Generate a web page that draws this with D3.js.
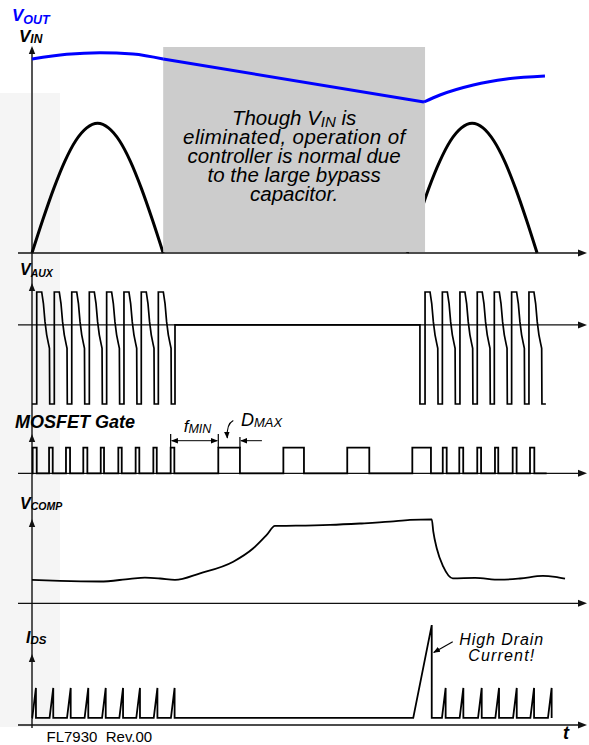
<!DOCTYPE html>
<html>
<head>
<meta charset="utf-8">
<script src="https://cdn.jsdelivr.net/npm/d3@7"></script>
<style>
  body { margin: 0; background: #fff; }
  svg { display: block; font-family: "Liberation Sans", Arial, sans-serif; }
</style>
</head>
<body>
<script>
const width = 589,
      height = 745;

// time in ms along the shared axis
const tMax = 42;

// V_IN (rectified line), volts
const vinHump1 = [[0,0],[0.83,65],[1.67,126],[2.5,178],[3.33,218],[4.17,243],[5,252],[5.83,243],[6.67,218],[7.5,178],[8.33,126],[9.17,65],[10,0]];
const vinHump2 = [[28.6,0],[29.43,65],[30.25,126],[31.08,178],[31.9,218],[32.73,243],[33.55,252],[34.38,243],[35.2,218],[36.03,178],[36.85,126],[37.68,65],[38.5,0]];
const outage = [10, 29.96];

// V_OUT, volts
const voutHold = [[0,376.7],[2.65,385.8],[5.18,389],[7.7,386.4],[10,376.7]];
const voutDrop = [[10,376.7],[29.88,293.2]];
const voutRecover = [[29.88,293.2],[31.1,306.8],[33.64,326.2],[36.18,337.9],[39.1,343.7]];

// V_AUX: rising edges and the ringing shape after each edge
const vauxRise1 = [0.36, 1.70, 3.03, 4.37, 5.69, 7.01, 8.33, 9.63];
const vauxRise2 = [29.96, 31.28, 32.62, 33.94, 35.24, 36.56, 37.88];
const vauxIdle = [10.9, 29.57];
const vauxEnd = 39.17;
const vauxLow = -2.4;
const vauxRing = [[0,1],[0.38,1],[0.51,0.65],[0.63,0.10],[0.76,-0.30],[0.89,-0.56],[0.97,-0.71],[0.99,-2.4]];

// MOSFET gate pulses [on, off]
const gatePulses = [[0.05,0.36],[1.30,1.58],[2.59,2.90],[3.91,4.22],[5.24,5.49],[6.58,6.84],[7.90,8.18],[9.25,9.51],[10.57,10.85],
                    [14.20,15.85],[19.16,20.73],[24.03,25.71],[28.99,30.41],
                    [31.31,31.61],[32.57,32.87],[33.94,34.23],[35.29,35.54],[36.64,36.94],[37.96,38.29]];
const gateEnd = 39.23;

// V_COMP, volts
const vcomp = [[0,1.17],[2.13,1.12],[5.18,1.09],[7.47,1.22],[8.61,1.28],[9.76,1.24],[10.9,1.17],
               [12.81,1.50],[15.34,2.08],[16.87,2.75],[17.89,3.42],[18.52,3.87],
               [20.12,3.88],[22.71,3.92],[25.0,3.99],[27.29,4.08],[28.81,4.17],[30.47,4.20],
               [30.59,3.58],[30.85,2.75],[31.35,1.83],[32.07,1.25],
               [33.77,1.27],[35.67,1.18],[37.2,1.24],[38.95,1.37],[39.87,1.32],[40.63,1.23]];

// I_DS spikes
const idsPeaks1 = [0.30, 1.62, 2.95, 4.29, 5.62, 6.94, 8.23, 9.56, 10.87];
const idsPeaks2 = [31.53, 32.88, 34.28, 35.60, 36.95, 38.27, 39.61];
const idsSurge = {start: 29.06, peak: 30.47, level: 3.23};
const idsRamp = 0.28, idsFloor = 0.23, idsPeak = 1.2;

const noteLines = ["eliminated, operation of", "controller is normal due", "to the large bypass", "capacitor."];

const svg = d3.select("body")
    .append("svg")
    .attr("width", width)
    .attr("height", height);

const x = d3.scaleLinear().domain([0, tMax]).range([32, 583]);

const yVin = d3.scaleLinear().domain([0, 400]).range([253, 47]);
const yAux = d3.scaleLinear().domain([vauxLow, 1]).range([404, 292]);
const yGate = d3.scaleLinear().domain([0, 1]).range([473.3, 447.7]);
const yComp = d3.scaleLinear().domain([0, 5]).range([603.3, 503.3]);
const yIds = d3.scaleLinear().domain([0, 3.2]).range([725, 626]);

const defs = svg.append("defs");
defs.append("marker")
    .attr("id", "arr")
    .attr("viewBox", "0 0 10 10")
    .attr("refX", 9).attr("refY", 5)
    .attr("markerWidth", 7).attr("markerHeight", 7)
    .attr("markerUnits", "userSpaceOnUse")
    .attr("orient", "auto-start-reverse")
  .append("path")
    .attr("d", "M0,1 L10,5 L0,9 z")
    .attr("fill", "#000");

// faint watermark stripe
svg.append("rect")
    .attr("x", 0).attr("y", 93)
    .attr("width", 60).attr("height", 634)
    .attr("fill", "#f5f5f5");

// vertical axis through all panels
svg.append("line")
    .attr("x1", 32).attr("x2", 32)
    .attr("y1", 50).attr("y2", 728)
    .attr("stroke", "#555")
    .attr("stroke-width", 2);

[46, 283, 434, 519, 654].forEach(tip => {
  svg.append("path")
      .attr("d", `M32,${tip} L28.8,${tip + 8} L35.2,${tip + 8} Z`)
      .attr("fill", "#111");
});

const hAxis = yp => {
  svg.append("line")
      .attr("x1", 18).attr("x2", 580)
      .attr("y1", yp).attr("y2", yp)
      .attr("stroke", "#111")
      .attr("stroke-width", 1.3);
  svg.append("path")
      .attr("d", `M587,${yp} L578,${yp - 3.5} L578,${yp + 3.5} Z`)
      .attr("fill", "#111");
};

const trace = (pts, yScale, curve) => d3.line()
    .x(d => x(d[0]))
    .y(d => yScale(d[1]))
    .curve(curve || d3.curveLinear)(pts);

// ---- V_IN / V_OUT panel
[vinHump1, vinHump2].forEach(h => {
  svg.append("path")
      .attr("d", trace(h, yVin, d3.curveMonotoneX))
      .attr("fill", "none")
      .attr("stroke", "#000")
      .attr("stroke-width", 3);
});

svg.append("rect")
    .attr("x", x(outage[0]))
    .attr("y", yVin(400))
    .attr("width", x(outage[1]) - x(outage[0]))
    .attr("height", yVin(0) - yVin(400) - 1)
    .attr("fill", "#cccccc");

hAxis(yVin(0));

const cx = x((outage[0] + outage[1]) / 2);
const first = svg.append("text")
    .attr("x", cx).attr("y", 124.5)
    .attr("text-anchor", "middle")
    .attr("font-style", "italic")
    .attr("font-size", 20.5);
first.append("tspan").text("Though V");
first.append("tspan").attr("font-size", 15).attr("dy", 2).text("IN");
first.append("tspan").attr("dy", -2).text(" is");

svg.selectAll("text.note")
    .data(noteLines)
    .enter().append("text")
    .attr("class", "note")
    .attr("x", cx)
    .attr("y", (d, i) => 143.5 + i * 19)
    .attr("text-anchor", "middle")
    .attr("font-style", "italic")
    .attr("font-size", 20.5)
    .attr("textLength", d => d === "eliminated, operation of" ? 222 : null)
    .text(d => d);

[[voutHold, d3.curveMonotoneX], [voutDrop, d3.curveLinear], [voutRecover, d3.curveMonotoneX]].forEach(([pts, c]) => {
  svg.append("path")
      .attr("d", trace(pts, yVin, c))
      .attr("fill", "none")
      .attr("stroke", "#0000ff")
      .attr("stroke-width", 3);
});

// ---- V_AUX
hAxis(yAux(0));

const auxPts = [[0, vauxLow]];
const addRings = rises => rises.forEach(r => {
  auxPts.push([r, vauxLow]);
  vauxRing.forEach(([dt, v]) => auxPts.push([r + dt, v]));
});
addRings(vauxRise1);
auxPts.push([vauxIdle[0], vauxLow], [vauxIdle[0], 0], [vauxIdle[1], 0], [vauxIdle[1], vauxLow]);
addRings(vauxRise2);
auxPts.push([vauxEnd, vauxLow]);

svg.append("path")
    .attr("d", trace(auxPts, yAux))
    .attr("fill", "none")
    .attr("stroke", "#000")
    .attr("stroke-width", 1.7);

// ---- MOSFET gate
hAxis(yGate(0));

const gatePts = [[0, 0]];
gatePulses.forEach(([on, off]) => gatePts.push([on, 0], [on, 1], [off, 1], [off, 0]));
gatePts.push([gateEnd, 0]);

svg.append("path")
    .attr("d", trace(gatePts, yGate))
    .attr("fill", "none")
    .attr("stroke", "#000")
    .attr("stroke-width", 1.8);

// f_MIN / D_MAX annotations
const fa = x(gatePulses[8][0]), fb = x(gatePulses[9][0]), fc = x(gatePulses[9][1]);
const ay = 440.7;
svg.append("path")
    .attr("d", `M${fa},434 V${yGate(1)} M${fb},434 V${yGate(1)} M${fc},437 V${yGate(1)}`)
    .attr("stroke", "#000").attr("stroke-width", 1.2);
svg.append("line")
    .attr("x1", fa + 1).attr("x2", fb - 1)
    .attr("y1", ay).attr("y2", ay)
    .attr("stroke", "#000").attr("stroke-width", 1)
    .attr("marker-start", "url(#arr)")
    .attr("marker-end", "url(#arr)");
svg.append("line")
    .attr("x1", fc + 22).attr("x2", fc + 1)
    .attr("y1", ay).attr("y2", ay)
    .attr("stroke", "#000").attr("stroke-width", 1)
    .attr("marker-end", "url(#arr)");
svg.append("path")
    .attr("d", `M${fb + 15},420.5 Q${fb + 8},424 ${fb + 9},438`)
    .attr("fill", "none")
    .attr("stroke", "#000").attr("stroke-width", 1.1)
    .attr("marker-end", "url(#arr)");

const fmin = svg.append("text")
    .attr("x", fa + 13).attr("y", 431.5)
    .attr("font-style", "italic").attr("font-size", 17);
fmin.append("tspan").text("f");
fmin.append("tspan").attr("font-size", 12.5).attr("dy", 1.5).text("MIN");

const dmax = svg.append("text")
    .attr("x", fc + 1).attr("y", 426)
    .attr("font-style", "italic").attr("font-size", 18);
dmax.append("tspan").text("D");
dmax.append("tspan").attr("font-size", 13).attr("dy", 1).text("MAX");

// ---- V_COMP
hAxis(yComp(0));
svg.append("path")
    .attr("d", trace(vcomp, yComp, d3.curveMonotoneX))
    .attr("fill", "none")
    .attr("stroke", "#000")
    .attr("stroke-width", 1.8);

// ---- I_DS
hAxis(yIds(0));

const idsPts = [[0, idsFloor]];
const addSpikes = peaks => peaks.forEach(p => idsPts.push([p - idsRamp, idsFloor], [p, idsPeak], [p, idsFloor]));
addSpikes(idsPeaks1);
idsPts.push([idsSurge.start, idsFloor], [idsSurge.peak, idsSurge.level], [idsSurge.peak, idsFloor]);
addSpikes(idsPeaks2);

svg.append("path")
    .attr("d", trace(idsPts, yIds))
    .attr("fill", "none")
    .attr("stroke", "#000")
    .attr("stroke-width", 1.8);

const sx = x(idsSurge.peak);
svg.append("line")
    .attr("x1", sx + 21).attr("y1", 641.7)
    .attr("x2", sx + 2).attr("y2", 652.5)
    .attr("stroke", "#000").attr("stroke-width", 1.1)
    .attr("marker-end", "url(#arr)");

svg.selectAll("text.surge")
    .data(["High Drain", "Current!"])
    .enter().append("text")
    .attr("class", "surge")
    .attr("x", sx + 69.5)
    .attr("y", (d, i) => 644.5 + i * 16)
    .attr("text-anchor", "middle")
    .attr("font-style", "italic")
    .attr("font-size", 16)
    .attr("textLength", (d, i) => i === 0 ? 84 : 66)
    .text(d => d);

// ---- axis labels
const vlabel = (xp, yp, main, sub, size, subSize, dy, color) => {
  const t = svg.append("text")
      .attr("x", xp).attr("y", yp)
      .attr("font-weight", "bold")
      .attr("font-style", "italic")
      .attr("font-size", size)
      .attr("fill", color || "#000");
  t.append("tspan").text(main);
  t.append("tspan").attr("font-size", subSize).attr("dy", dy).text(sub);
};

vlabel(12, 20.7, "V", "OUT", 17, 12.5, 3, "#0000ff");
vlabel(19, 41.7, "V", "IN", 17, 12, 1.6);
vlabel(20, 275.3, "V", "AUX", 16, 10.5, 1.5);
vlabel(20, 509, "V", "COMP", 16, 10.5, 1);
vlabel(26, 643.3, "I", "DS", 16, 11.5, 1);

svg.append("text")
    .attr("x", 15).attr("y", 428.3)
    .attr("font-weight", "bold")
    .attr("font-style", "italic")
    .attr("font-size", 18)
    .text("MOSFET Gate");

svg.append("text")
    .attr("x", 563).attr("y", 739)
    .attr("font-weight", "bold")
    .attr("font-style", "italic")
    .attr("font-size", 18)
    .text("t");

svg.append("text")
    .attr("x", 46.5).attr("y", 741.5)
    .attr("font-size", 15)
    .style("white-space", "pre")
    .text("FL7930  Rev.00");
</script>
</body>
</html>
